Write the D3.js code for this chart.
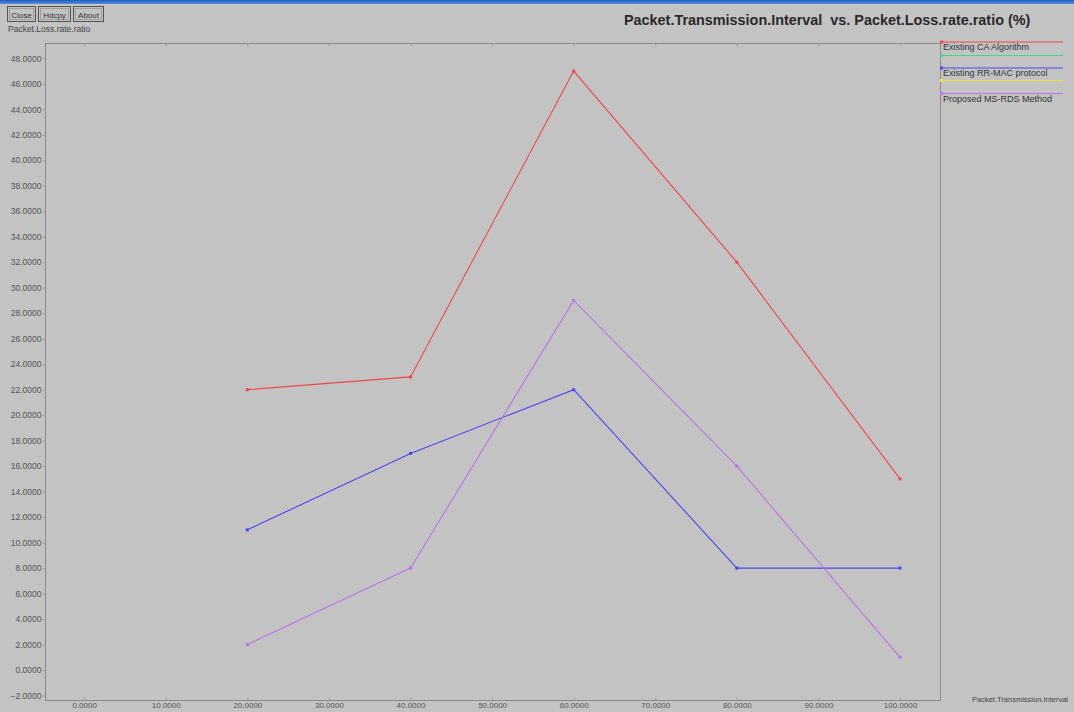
<!DOCTYPE html>
<html>
<head>
<meta charset="utf-8">
<script src="https://cdn.jsdelivr.net/npm/d3@7"></script>
<style>
  html, body { margin: 0; padding: 0; background: #c3c3c3; }
  svg { display: block; }
  text { font-family: "Liberation Sans", Arial, sans-serif; }
</style>
</head>
<body>
<svg id="chart" width="1074" height="712"></svg>
<script>
// Packet transmission interval (x) and loss ratio (%) per method
const intervals = [20, 40, 60, 80, 100];
const caAlgorithm = [22, 23, 47, 32, 15];
const rrMac = [11, 17, 22, 8, 8];
const msRds = [2, 8, 29, 16, 1];

const xTicks = [0, 10, 20, 30, 40, 50, 60, 70, 80, 90, 100];
const yTicks = d3.range(-2, 49, 2);

const legendNames = ["Existing CA Algorithm", "", "Existing RR-MAC protocol", "", "Proposed MS-RDS Method"];
const legendColors = ["#f04848", "#40d890", "#4848f0", "#e8e040", "#c070f0"];
const seriesValues = [caAlgorithm, null, rrMac, null, msRds];

const titleText = "Packet.Transmission.Interval  vs. Packet.Loss.rate.ratio (%)";
const yAxisTitle = "Packet.Loss.rate.ratio";
const xAxisTitle = "Packet.Transmission.Interval";
const buttons = ["Close", "Hdcpy", "About"];

const svg = d3.select("#chart");
const W = 1074, H = 712;
const plot = { left: 45, right: 940, top: 43, bottom: 700 };

const x = d3.scaleLinear().domain([-4.8, 104.9]).range([plot.left, plot.right]);
const y = d3.scaleLinear().domain([-2.35, 49.2]).range([plot.bottom, plot.top]);
const fmt = d3.format(".4f");

// background
svg.append("rect").attr("width", W).attr("height", H).attr("fill", "#c3c3c3");

// window title strip
const grad = svg.append("defs").append("linearGradient")
  .attr("id", "bar").attr("x1", 0).attr("y1", 0).attr("x2", 0).attr("y2", 1);
grad.append("stop").attr("offset", "0").attr("stop-color", "#1e5cc0");
grad.append("stop").attr("offset", "1").attr("stop-color", "#5c8fd8");
svg.append("rect").attr("x", 0).attr("y", 0).attr("width", W).attr("height", 4).attr("fill", "url(#bar)");

// buttons
let bx = 7;
const btnWidths = [28, 32, 30];
buttons.forEach((b, i) => {
  const g = svg.append("g");
  g.append("rect").attr("x", bx + 0.5).attr("y", 6.5).attr("width", btnWidths[i]).attr("height", 15)
    .attr("fill", "none").attr("stroke", "#555").attr("stroke-width", 1);
  g.append("rect").attr("x", bx + 2.5).attr("y", 8.5).attr("width", btnWidths[i] - 4).attr("height", 11)
    .attr("fill", "none").attr("stroke", "#888").attr("stroke-width", 0.6);
  g.append("text").attr("x", bx + btnWidths[i] / 2 + 0.5).attr("y", 17.5).attr("text-anchor", "middle")
    .attr("font-size", 8).attr("fill", "#333").text(b);
  bx += btnWidths[i] + 3;
});

// axis titles
svg.append("text").attr("x", 8).attr("y", 32).attr("font-size", 8.5).attr("fill", "#444").text(yAxisTitle);
svg.append("text").attr("x", 972).attr("y", 702).attr("font-size", 7.5).attr("fill", "#444").text(xAxisTitle);

// chart title
svg.append("text").attr("x", 624).attr("y", 25).attr("font-size", 14.4).attr("font-weight", "bold")
  .attr("fill", "#2a2a2a").attr("xml:space", "preserve").style("white-space", "pre").text(titleText);

// frame
svg.append("rect").attr("x", plot.left + 0.5).attr("y", plot.top + 0.5)
  .attr("width", plot.right - plot.left).attr("height", plot.bottom - plot.top)
  .attr("fill", "none").attr("stroke", "#8a8a8a").attr("stroke-width", 1);

// y axis
const yAxis = d3.axisLeft(y).tickValues(yTicks).tickFormat(fmt).tickSize(3).tickPadding(1);
const gy = svg.append("g").attr("transform", `translate(${plot.left + 0.5},0)`).call(yAxis);
gy.select(".domain").remove();
gy.selectAll(".tick line").attr("stroke", "#9a9a9a");
gy.selectAll(".tick text").attr("font-size", 8.5).attr("fill", "#555")
  .attr("font-family", "'Liberation Sans', Arial, sans-serif");

// x axis: ticks point into the plot, labels below
const xAxis = d3.axisBottom(x).tickValues(xTicks).tickFormat(fmt).tickSizeInner(-3).tickSizeOuter(0).tickPadding(2);
const gx = svg.append("g").attr("transform", `translate(0,${plot.bottom + 0.5})`).call(xAxis);
gx.select(".domain").remove();
gx.selectAll(".tick line").attr("stroke", "#9a9a9a");
gx.selectAll(".tick text").attr("font-size", 8).attr("fill", "#555")
  .attr("font-family", "'Liberation Sans', Arial, sans-serif");

// top border tick marks
svg.append("g").selectAll("line").data(xTicks).join("line")
  .attr("x1", d => x(d) + 0.5).attr("x2", d => x(d) + 0.5)
  .attr("y1", plot.top).attr("y2", plot.top + 3).attr("stroke", "#9a9a9a");

// series lines and points
const line = d3.line().x((d, i) => x(intervals[i])).y(d => y(d));
seriesValues.forEach((vals, k) => {
  if (!vals) return;
  svg.append("path").datum(vals).attr("d", line)
    .attr("fill", "none").attr("stroke", legendColors[k]).attr("stroke-width", 1.1);
  svg.append("g").selectAll("rect").data(vals).join("rect")
    .attr("x", (d, i) => x(intervals[i]) - 1.5).attr("y", d => y(d) - 1.5)
    .attr("width", 3).attr("height", 3).attr("fill", legendColors[k]);
});

// legend to the right of the plot
const legendY = [42, 55.5, 68, 80.5, 93.5];
legendNames.forEach((name, k) => {
  const ly = legendY[k];
  svg.append("line").attr("x1", 941).attr("x2", 1063).attr("y1", ly).attr("y2", ly)
    .attr("stroke", legendColors[k]).attr("stroke-width", 1.1);
  svg.append("rect").attr("x", 940).attr("y", ly - 1.5).attr("width", 3).attr("height", 3)
    .attr("fill", legendColors[k]);
  if (name) {
    svg.append("text").attr("x", 943).attr("y", ly + 8).attr("font-size", 9)
      .attr("fill", "#333").text(name);
  }
});
</script>
</body>
</html>
